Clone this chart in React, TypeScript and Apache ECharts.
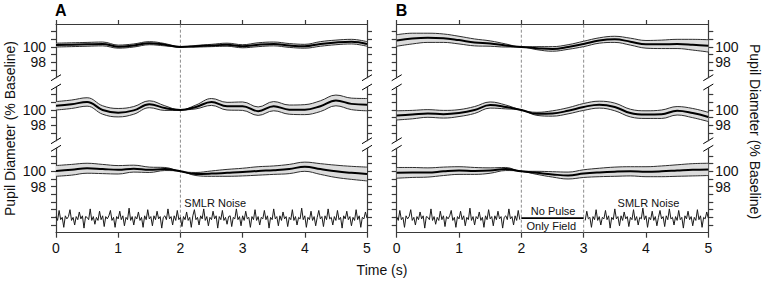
import React, { useEffect, useRef } from "react";
import * as echarts from "echarts";

// ---- data ----
const T = [0, 0.25, 0.5, 0.75, 1, 1.25, 1.5, 1.75, 2, 2.25, 2.5, 2.75, 3, 3.25, 3.5, 3.75, 4, 4.25, 4.5, 4.75, 5];

const meanA1 = [100.25, 100.3, 100.35, 100.4, 100.05, 100.2, 100.5, 100.3, 100.0, 100.1, 100.2, 100.3, 100.1, 100.3, 100.4, 100.2, 100.1, 100.4, 100.6, 100.7, 100.4];
const ciA1 = [0.25, 0.25, 0.25, 0.25, 0.2, 0.2, 0.2, 0.15, 0, 0.1, 0.15, 0.2, 0.2, 0.25, 0.25, 0.25, 0.25, 0.3, 0.3, 0.3, 0.3];
const meanA2 = [100.55, 100.75, 101.05, 100.0, 99.65, 99.95, 100.75, 100.25, 100.0, 100.4, 101.05, 100.5, 100.5, 99.85, 100.5, 100.05, 100.05, 100.5, 101.25, 100.8, 100.7];
const ciA2 = [0.55, 0.55, 0.55, 0.55, 0.55, 0.5, 0.45, 0.3, 0, 0.25, 0.45, 0.5, 0.55, 0.55, 0.6, 0.6, 0.65, 0.7, 0.7, 0.75, 0.8];
const meanA3 = [100.05, 100.2, 100.4, 100.3, 100.2, 100.35, 100.2, 100.3, 100.0, 99.65, 99.7, 99.8, 99.9, 100.05, 100.15, 100.3, 100.6, 100.3, 100.0, 99.8, 99.65];
const ciA3 = [0.7, 0.7, 0.65, 0.6, 0.55, 0.45, 0.35, 0.2, 0, 0.2, 0.35, 0.45, 0.5, 0.55, 0.55, 0.6, 0.6, 0.7, 0.8, 0.85, 0.9];

const meanB1 = [100.85, 101.1, 101.2, 101.15, 100.9, 100.6, 100.45, 100.2, 100.0, 99.85, 99.75, 100.0, 100.4, 100.85, 101.0, 100.7, 100.35, 100.35, 100.4, 100.3, 100.15];
const ciB1 = [0.75, 0.7, 0.6, 0.55, 0.5, 0.45, 0.35, 0.2, 0, 0.2, 0.3, 0.3, 0.35, 0.35, 0.4, 0.45, 0.5, 0.55, 0.6, 0.7, 0.8];
const meanB2 = [99.3, 99.4, 99.55, 99.45, 99.6, 100.0, 100.65, 100.4, 100.0, 99.5, 99.55, 99.9, 100.4, 100.7, 100.4, 99.6, 99.4, 99.45, 99.9, 99.6, 99.1];
const ciB2 = [0.6, 0.55, 0.5, 0.5, 0.45, 0.45, 0.4, 0.25, 0, 0.2, 0.35, 0.4, 0.45, 0.45, 0.5, 0.5, 0.5, 0.55, 0.55, 0.6, 0.6];
const meanB3 = [99.8, 99.85, 99.85, 100.0, 100.1, 100.05, 100.1, 100.3, 100.0, 99.8, 99.6, 99.45, 99.7, 99.85, 99.95, 100.0, 99.95, 100.0, 100.1, 100.2, 100.25];
const ciB3 = [0.7, 0.65, 0.6, 0.55, 0.5, 0.45, 0.35, 0.2, 0, 0.2, 0.35, 0.45, 0.5, 0.55, 0.6, 0.6, 0.65, 0.7, 0.75, 0.8, 0.8];

// SMLR noise trace (offsets, % units), sampled every 0.025 s
const noiseStep = 0.025;
const noise = [
  0.2, -0.3, 1.0, -0.2, 0.1, -1.2, 0.3, -0.1, 0.2, 1.1,
  -0.3, 0.1, -0.9, 0.2, -0.2, 0.8, -0.1, 0.3, -1.3, 0.2,
  0.1, -0.2, 1.2, -0.3, 0.2, -0.8, 0.1, -0.3, 0.9, -0.2,
  0.3, -1.1, 0.2, -0.1, 0.3, 1.0, -0.3, 0.1, -1.2, 0.2,
  -0.1, 0.9, -0.2, 0.3, -1.0, 0.1, -0.2, 1.3, -0.3, 0.2,
  -0.9, 0.2, -0.1, 0.8, -0.3, 0.1, -1.2, 0.3, -0.2, 1.1,
  -0.1, 0.2, -1.0, 0.3, -0.2, 0.9, -0.1, 0.2, -1.3, 0.1,
  0.3, -0.2, 1.2, -0.1, 0.2, -0.9, 0.3, -0.3, 1.0, -0.2,
  0.1, -1.1, 0.2, -0.2, 0.8, -0.3, 0.1, -1.2, 0.3, 1.1,
  -0.2, 0.1, -0.9, 0.3, -0.1, 1.2, -0.3, 0.2, -1.0, 0.1,
  -0.2, 0.9, -0.1, 0.3, -1.3, 0.2, -0.2, 1.0, -0.3, 0.1,
  -0.8, 0.2, 0.3, -1.1, 0.1, -0.1, 1.2, -0.2, 0.2, -1.0,
  0.3, -0.3, 0.9, -0.1, 0.1, -1.2, 0.2, -0.2, 1.1, -0.3,
  0.2, -0.9, 0.1, -0.1, 1.0, -0.2, 0.3, -1.3, 0.1, -0.2,
  1.2, -0.1, 0.2, -1.0, 0.3, -0.3, 0.8, -0.1, 0.2, -1.1,
  0.1, -0.2, 1.1, -0.3, 0.2, -0.9, 0.1, -0.1, 1.3, -0.2,
  0.3, -1.2, 0.1, -0.2, 0.9, -0.3, 0.2, -1.0, 0.1, 1.0,
  -0.1, 0.2, -1.1, 0.3, -0.2, 1.2, -0.1, 0.1, -0.9, 0.2,
  -0.3, 1.0, -0.2, 0.1, -1.3, 0.3, -0.1, 0.9, -0.2, 0.2,
  -1.0, 0.1, -0.3, 1.1, -0.2, 0.3, -1.2, 0.1, -0.1, 0.8,
  0.0,
];
const noiseCenter = 93.9;
const pulseOffB = [2, 3]; // no-pulse window in panel B

const xTickLabels = [0, 1, 2, 3, 4, 5];
const yLabelValues = [98, 100];
const segTicksShort = [97, 98, 99, 100, 101, 102];
const segTicksLong = [93, 94, 95, 96, 97, 98, 99, 100, 101, 102];

const dashedA = [2];
const dashedB = [2, 3];

const annotationsA = [{ text: "SMLR Noise", t: 2.56, v: 95.9 }];
const annotationsB = [
  { text: "SMLR Noise", t: 4.04, v: 95.9 },
  { text: "No Pulse", t: 2.51, v: 94.85 },
  { text: "Only Field", t: 2.48, v: 92.85 },
];

// ---- layout ----
const FONT = "Liberation Sans, Arial, Helvetica, sans-serif";
const AXIS_COLOR = "#3a3a3a";
const PANELS = [
  { left: 56, width: 311, letter: "A", labelSide: "left", dashed: dashedA, ann: annotationsA,
    traces: [[meanA1, ciA1], [meanA2, ciA2], [meanA3, ciA3]] },
  { left: 396.7, width: 311.6, letter: "B", labelSide: "right", dashed: dashedB, ann: annotationsB,
    traces: [[meanB1, ciB1], [meanB2, ciB2], [meanB3, ciB3]] },
];
const PLOT_TOP = 24;
const PLOT_H = 208.7;
const SEGS = [
  { top: 24, height: 53.7, min: 96, max: 103, ticks: segTicksShort },
  { top: 87, height: 53.7, min: 96, max: 103, ticks: segTicksShort },
  { top: 148.3, height: 84.4, min: 92, max: 103, ticks: segTicksLong },
];

function buildOption() {
  const grid: any[] = [];
  const xAxis: any[] = [];
  const yAxis: any[] = [];
  const series: any[] = [];
  const noiseSeriesIdx: number[] = [];

  PANELS.forEach((P, p) => {
    const gBase = grid.length;
    grid.push({ left: P.left, top: PLOT_TOP, width: P.width, height: PLOT_H });
    SEGS.forEach((s) => grid.push({ left: P.left, top: s.top, width: P.width, height: s.height }));

    const xb = xAxis.length;
    const axisLine = { show: true, lineStyle: { color: AXIS_COLOR, width: 1.2 } };
    xAxis.push({
      gridIndex: gBase, type: "value", min: 0, max: 5, interval: 1, position: "bottom",
      axisLine, axisTick: { show: true, length: 5, lineStyle: { color: AXIS_COLOR, width: 1.2 } },
      axisLabel: { show: true, color: "#111", fontSize: 14, fontFamily: FONT, margin: 8,
        customValues: xTickLabels },
      splitLine: { show: false },
    });
    xAxis.push({
      gridIndex: gBase, type: "value", min: 0, max: 5, interval: 1, position: "top",
      axisLine, axisTick: { show: true, length: 4, lineStyle: { color: AXIS_COLOR, width: 1.2 } },
      axisLabel: { show: false }, splitLine: { show: false },
    });
    // hidden category time axes for the traces (so band stacking works)
    SEGS.forEach((s, si) => xAxis.push({
      gridIndex: gBase + 1 + si, type: "category", data: T.map(String), boundaryGap: false, show: false,
    }));
    // hidden value time axis for noise in segment 3
    const xNoise = xAxis.length;
    xAxis.push({ gridIndex: gBase + 3, type: "value", min: 0, max: 5, show: false });

    const yb = yAxis.length;
    yAxis.push({ gridIndex: gBase, type: "value", min: 0, max: 1, show: false });
    SEGS.forEach((s, si) => {
      ["left", "right"].forEach((side) => {
        yAxis.push({
          gridIndex: gBase + 1 + si, type: "value", min: s.min, max: s.max, interval: 1, position: side,
          axisLine: { show: true, onZero: false, lineStyle: { color: AXIS_COLOR, width: 1.2 } },
          axisTick: { show: true, length: 5, customValues: s.ticks, lineStyle: { color: AXIS_COLOR, width: 1.2 } },
          axisLabel: { show: P.labelSide === side, customValues: yLabelValues, color: "#111",
            fontSize: 14, fontFamily: FONT, margin: side === "left" ? 10 : 7 },
          splitLine: { show: false },
        });
      });
    });

    // dashed event lines
    P.dashed.forEach((d) => {
      series.push({
        type: "line", xAxisIndex: xb, yAxisIndex: yb, data: [[d, 0], [d, 1]], symbol: "none",
        lineStyle: { color: "#8c8c8c", width: 1, type: [3, 2] }, z: 1, silent: true,
      });
    });

    // traces: CI band + edges + mean
    P.traces.forEach(([mean, ci], si) => {
      const xi = xb + 2 + si;
      const yi = yb + 1 + 2 * si;
      const lower = mean.map((m, i) => m - ci[i]);
      const upper = mean.map((m, i) => m + ci[i]);
      const width = ci.map((c) => 2 * c);
      const stack = `band-${p}-${si}`;
      const common = { type: "line", xAxisIndex: xi, yAxisIndex: yi, symbol: "none", smooth: 0.4, silent: true };
      series.push({ ...common, data: lower, stack, lineStyle: { opacity: 0, width: 0 }, z: 2 });
      series.push({ ...common, data: width, stack, lineStyle: { opacity: 0, width: 0 },
        areaStyle: { color: "#dcdcdc", opacity: 1 }, z: 2 });
      series.push({ ...common, data: lower, lineStyle: { color: "#2e2e2e", width: 1 }, z: 3 });
      series.push({ ...common, data: upper, lineStyle: { color: "#2e2e2e", width: 1 }, z: 3 });
      series.push({ ...common, data: mean, lineStyle: { color: "#000", width: 2 }, z: 4 });
    });

    // noise
    const yi3 = yb + 5;
    const segA: number[][] = [];
    const segB: number[][] = [];
    noise.forEach((v, i) => {
      const t = i * noiseStep;
      if (p === 0) segA.push([t, noiseCenter + v]);
      else if (t < pulseOffB[0] - 1e-9) segA.push([t, noiseCenter + v]);
      else if (t > pulseOffB[1] + 1e-9) segB.push([t, noiseCenter + v]);
    });
    const noiseStyle = { type: "line", xAxisIndex: xNoise, yAxisIndex: yi3, symbol: "none", silent: true,
      lineStyle: { color: "#1a1a1a", width: 1 }, z: 3 };
    noiseSeriesIdx.push(series.length);
    series.push({ ...noiseStyle, data: segA });
    if (p === 1) {
      series.push({ ...noiseStyle, data: segB });
      series.push({ ...noiseStyle, data: [[pulseOffB[0], noiseCenter], [pulseOffB[1], noiseCenter]],
        lineStyle: { color: "#000", width: 1.8 } });
    }
  });

  return {
    option: { animation: false, backgroundColor: "#fff", grid, xAxis, yAxis, series },
    noiseSeriesIdx,
  };
}

export default function App() {
  const ref = useRef<HTMLDivElement>(null);
  useEffect(() => {
    document.body.style.margin = "0";
    const chart = echarts.init(ref.current!, undefined, { renderer: "svg" });
    const { option, noiseSeriesIdx } = buildOption();
    chart.setOption(option as any);

    const graphic: any[] = [];
    PANELS.forEach((P, p) => {
      graphic.push({ type: "text", x: P.left - 1, y: 10,
        style: { text: P.letter, font: `bold 16px ${FONT}`, fill: "#000", align: "left", verticalAlign: "middle" } });
      const breakYs = [SEGS[0].top + SEGS[0].height, SEGS[1].top, SEGS[1].top + SEGS[1].height, SEGS[2].top];
      [P.left, P.left + P.width].forEach((bx) => {
        breakYs.forEach((by) => {
          graphic.push({ type: "line", shape: { x1: bx - 5, y1: by + 3, x2: bx + 5, y2: by - 3 },
            style: { stroke: "#000", lineWidth: 1 } });
        });
      });
      P.ann.forEach((a) => {
        const px = chart.convertToPixel({ seriesIndex: noiseSeriesIdx[p] }, [a.t, a.v]) as number[];
        graphic.push({ type: "text", x: px[0], y: px[1],
          style: { text: a.text, font: `11px ${FONT}`, fill: "#111", align: "center", verticalAlign: "middle" } });
      });
    });
    graphic.push({ type: "text", x: 9.5, y: 128.5, rotation: Math.PI / 2,
      style: { text: "Pupil Diameter (% Baseline)", font: `14px ${FONT}`, fill: "#111", align: "center", verticalAlign: "middle" } });
    graphic.push({ type: "text", x: 755, y: 131.5, rotation: -Math.PI / 2,
      style: { text: "Pupil Diameter (% Baseline)", font: `14px ${FONT}`, fill: "#111", align: "center", verticalAlign: "middle" } });
    graphic.push({ type: "text", x: 382, y: 270,
      style: { text: "Time (s)", font: `14px ${FONT}`, fill: "#111", align: "center", verticalAlign: "middle" } });

    chart.setOption({ graphic });
    return () => chart.dispose();
  }, []);
  return <div ref={ref} style={{ position: "absolute", left: 0, top: 0, width: 767, height: 281 }} />;
}
